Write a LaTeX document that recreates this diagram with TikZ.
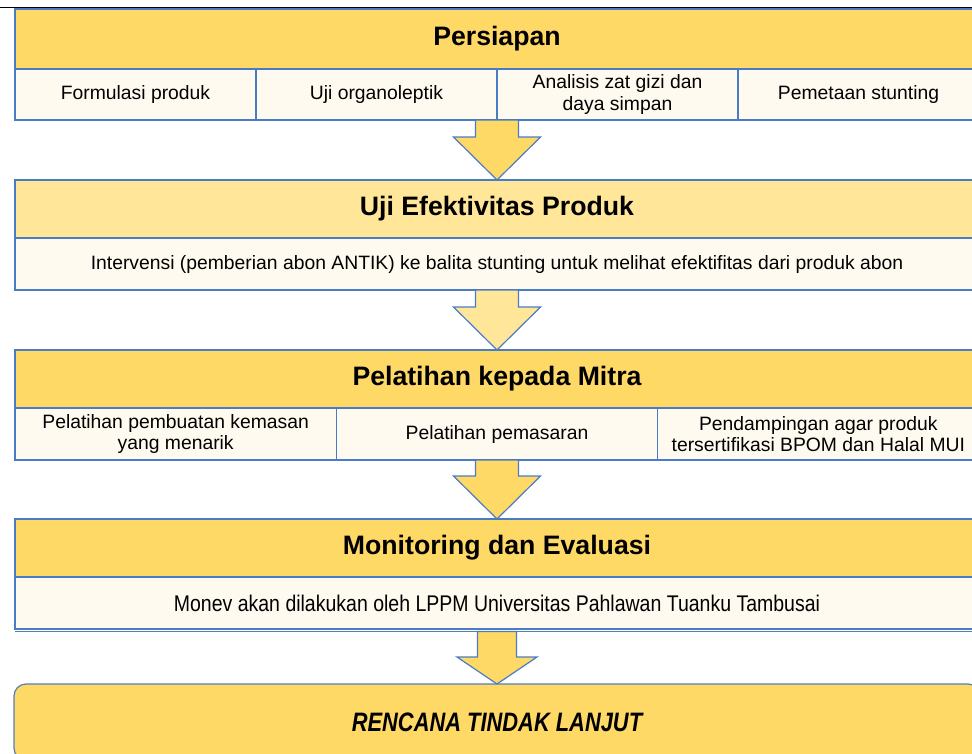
\documentclass[tikz,border=0pt]{standalone}
\usepackage{fontspec}
\setmainfont{Liberation Sans}
\newfontfamily\narrowfont[FakeStretch=0.86]{Liberation Sans}
\newfontfamily\narrowbold[FakeStretch=0.82]{Liberation Sans}
\usetikzlibrary{calc}
\definecolor{gold}{HTML}{FFD966}
\definecolor{lgold}{HTML}{FFE699}
\definecolor{cream}{HTML}{FFFAEF}
\definecolor{bord}{HTML}{4A7CC6}
\begin{document}
\begin{tikzpicture}[x=0.75pt,y=-0.75pt,
  box/.style={draw=bord, line width=0.9pt, outer sep=0pt, inner sep=0pt, anchor=north west},
  hdr/.style={box, fill=gold, minimum width=723pt, minimum height=43.5pt, font=\fontsize{20}{24}\selectfont\bfseries},
  cell/.style={box, fill=cream, minimum height=39pt, align=center, font=\fontsize{14.5}{16}\selectfont},
  arrowshape/.style={draw=bord, line width=0.9pt, fill=gold, line join=miter},
]
\useasboundingbox (0,0) rectangle (972,754);
\clip (0,0) rectangle (972,754);

% top rule
\draw[line width=1.2pt] (0,7.5) -- (972,7.5);

% Stage 1
\node[hdr, minimum height=45pt] (h1) at (15,9) {Persiapan};
\node[cell, minimum width=180.75pt, minimum height=38.25pt] (c11) at (h1.south west) {Formulasi produk};
\node[cell, minimum width=180.75pt, minimum height=38.25pt] (c12) at (c11.north east) {Uji organoleptik};
\node[cell, minimum width=180.75pt, minimum height=38.25pt] (c13) at (c12.north east) {Analisis zat gizi dan\\daya simpan};
\node[cell, minimum width=180.75pt, minimum height=38.25pt] (c14) at (c13.north east) {Pemetaan stunting};

% Stage 2
\node[hdr, fill=lgold] (h2) at (15,180) {Uji Efektivitas Produk};
\node[cell, minimum width=723pt] (s2) at (h2.south west) {Intervensi (pemberian abon ANTIK) ke balita stunting untuk melihat efektifitas dari produk abon};

% Stage 3
\node[hdr] (h3) at (15,350) {Pelatihan kepada Mitra};
\node[cell, minimum width=241pt] (c31) at (h3.south west) {Pelatihan pembuatan kemasan\\yang menarik};
\node[cell, minimum width=241pt] (c32) at (c31.north east) {Pelatihan pemasaran};
\node[cell, minimum width=241pt] (c33) at (c32.north east) {Pendampingan agar produk\\tersertifikasi BPOM dan Halal MUI};

% Stage 4
\node[hdr] (h4) at (15,519) {Monitoring dan Evaluasi};
\node[cell, minimum width=723pt, font=\narrowfont\fontsize{17}{19}\selectfont] (s4) at (h4.south west) {Monev akan dilakukan oleh LPPM Universitas Pahlawan Tuanku Tambusai};
\draw[draw=bord!70!gray, line width=0.9pt] ($(s4.south west)+(0,2.5)$) -- ($(s4.south east)+(0,2.5)$);

% Stage 5
\node[box, fill=gold, rounded corners=9pt, minimum width=724.5pt, minimum height=57pt,
      draw=bord!80!gray, font=\narrowbold\fontsize{20}{24}\selectfont\bfseries\itshape] (h5) at (14,684) {RENCANA TINDAK LANJUT};

% coordinates for arrow tops
\coordinate (a1) at ($(c11.south west)!0.5!(c14.south east)$);
\coordinate (a3) at ($(c31.south west)!0.5!(c33.south east)$);
\coordinate (a4) at ($(s4.south)+(0,2.5)$);

% arrows
\draw[arrowshape] ($(a1)+(-21.5,0)$) -- ($(a1)+(21.5,0)$) -- ($(h2.north)+(21.5,-43)$) -- ($(h2.north)+(43.5,-43)$)
  -- (h2.north) -- ($(h2.north)+(-43.5,-43)$) -- ($(h2.north)+(-21.5,-43)$) -- cycle;
\draw[arrowshape, fill=lgold] ($(s2.south)+(-21.5,0)$) -- ($(s2.south)+(21.5,0)$) -- ($(h3.north)+(21.5,-43)$) -- ($(h3.north)+(43.5,-43)$)
  -- (h3.north) -- ($(h3.north)+(-43.5,-43)$) -- ($(h3.north)+(-21.5,-43)$) -- cycle;
\draw[arrowshape] ($(a3)+(-21.5,0)$) -- ($(a3)+(21.5,0)$) -- ($(h4.north)+(21.5,-43)$) -- ($(h4.north)+(43.5,-43)$)
  -- (h4.north) -- ($(h4.north)+(-43.5,-43)$) -- ($(h4.north)+(-21.5,-43)$) -- cycle;
\draw[arrowshape] ($(a4)+(-19.5,0)$) -- ($(a4)+(19.5,0)$) -- ($(h5.north)+(19.5,-27)$) -- ($(h5.north)+(40,-27)$)
  -- (h5.north) -- ($(h5.north)+(-40,-27)$) -- ($(h5.north)+(-19.5,-27)$) -- cycle;
\end{tikzpicture}
\end{document}
